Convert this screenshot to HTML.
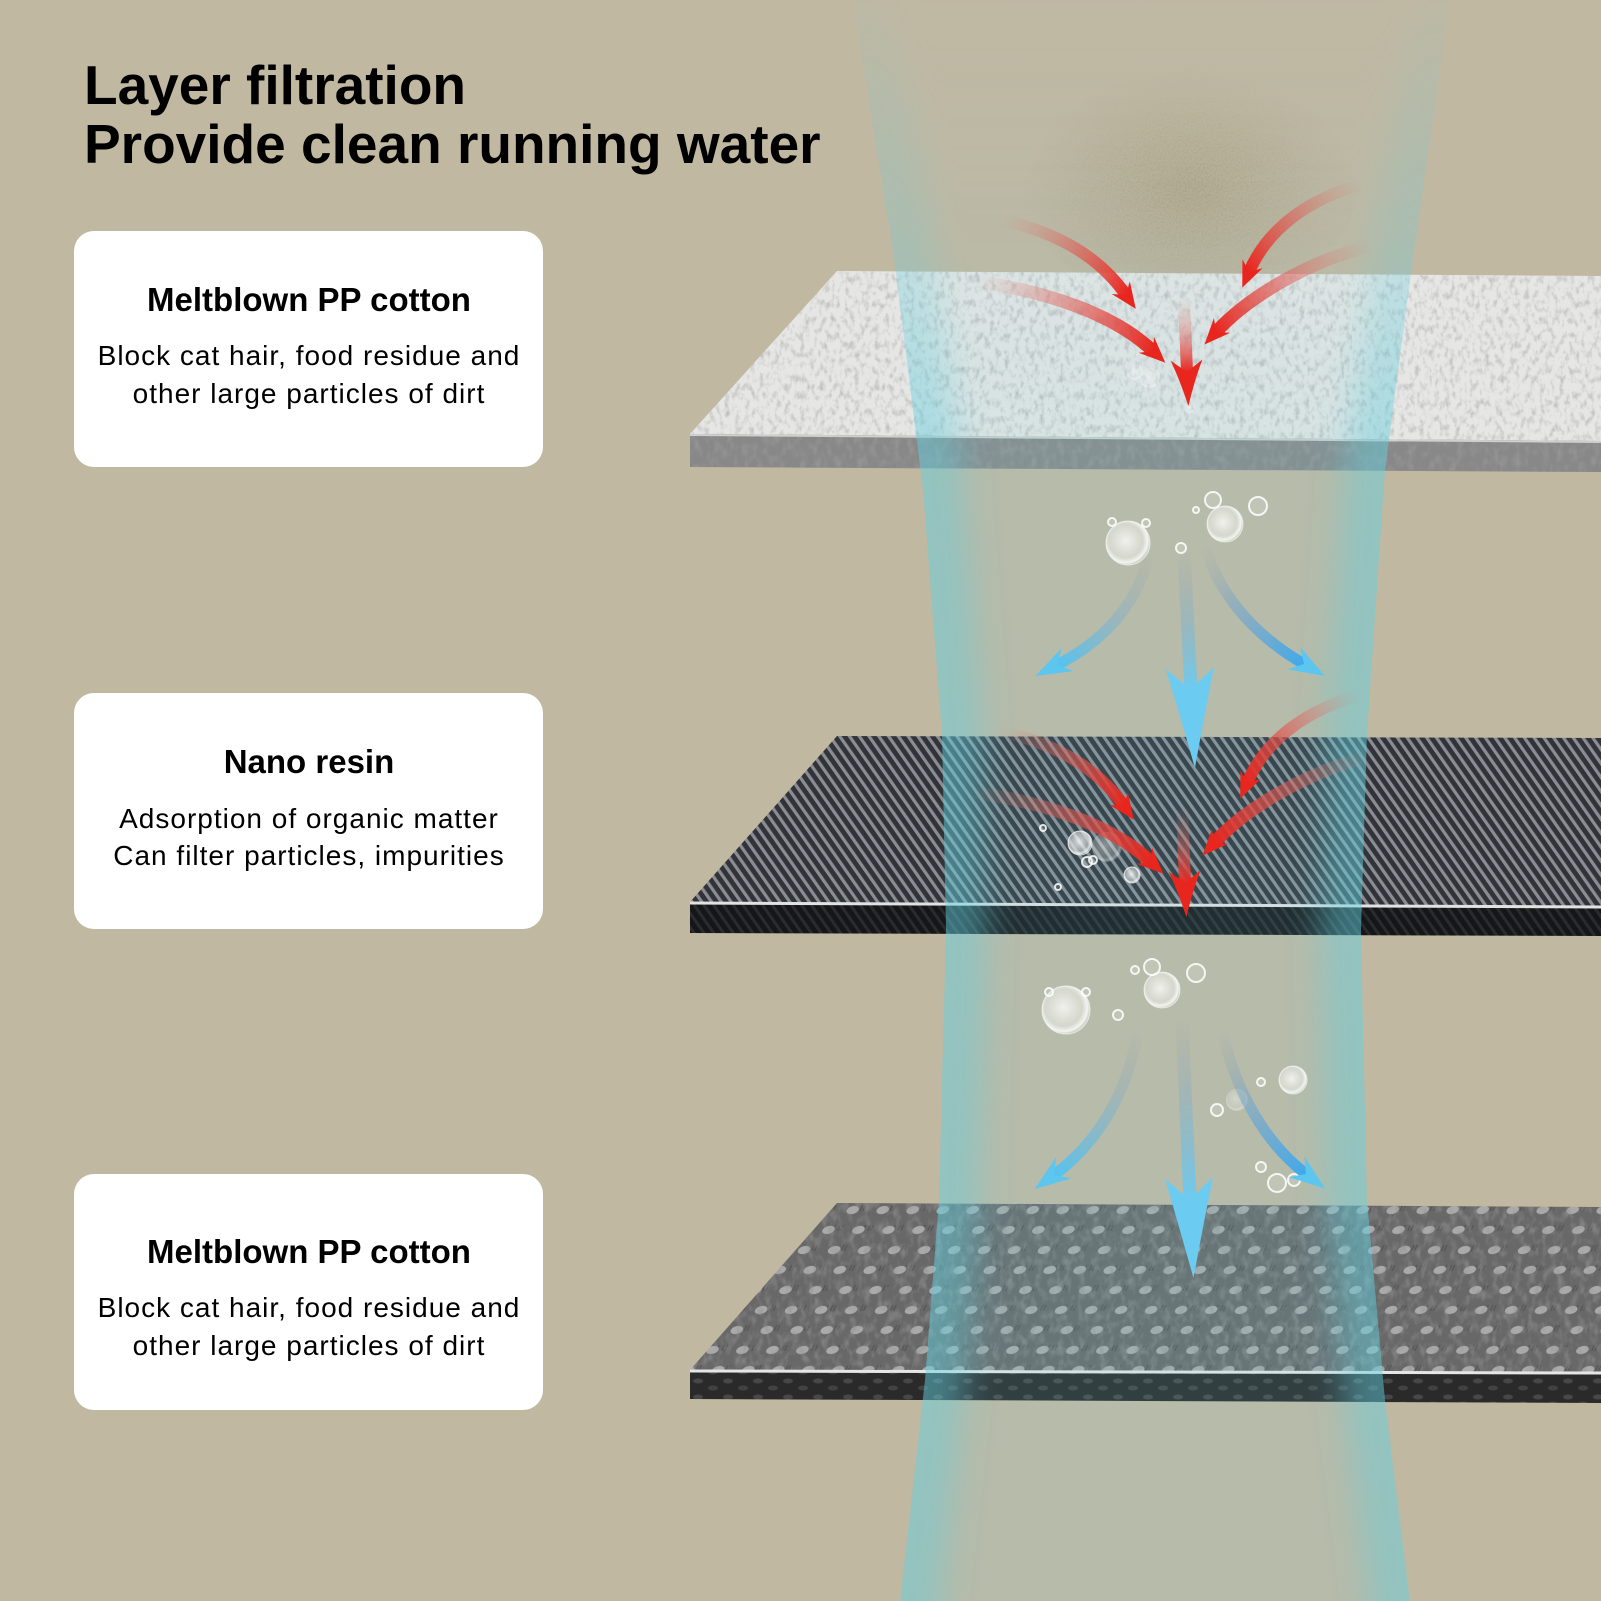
<!DOCTYPE html>
<html>
<head>
<meta charset="utf-8">
<style>
  html,body{margin:0;padding:0;background:#C1B8A2;}
  body{width:1601px;height:1601px;overflow:hidden;}
  svg{display:block;}
  .t{font-family:"Liberation Sans",Arial,sans-serif;fill:#000;}
</style>
</head>
<body>
<svg width="1601" height="1601" viewBox="0 0 1601 1601" xmlns="http://www.w3.org/2000/svg">
<defs>
  <filter id="speck" x="0" y="0" width="1" height="1">
    <feTurbulence type="fractalNoise" baseFrequency="0.2 0.12" numOctaves="3" seed="5" result="t"/>
    <feColorMatrix in="t" type="matrix" values="0 0 0 0 0.5  0 0 0 0 0.5  0 0 0 0 0.5  2.2 0 0 0 -1.02" result="g"/>
    <feComposite in="g" in2="SourceGraphic" operator="in"/>
  </filter>
  <filter id="speck2" x="0" y="0" width="1" height="1">
    <feTurbulence type="fractalNoise" baseFrequency="0.14 0.09" numOctaves="2" seed="9" result="t"/>
    <feColorMatrix in="t" type="matrix" values="0 0 0 0 0.3  0 0 0 0 0.3  0 0 0 0 0.3  2.5 0 0 0 -1.1" result="g"/>
    <feComposite in="g" in2="SourceGraphic" operator="in"/>
  </filter>
  <filter id="dirtNoise" x="0" y="0" width="1" height="1">
    <feTurbulence type="fractalNoise" baseFrequency="0.55" numOctaves="1" seed="2" result="n"/>
    <feColorMatrix in="n" type="matrix" values="0 0 0 0 0  0 0 0 0 0  0 0 0 0 0  2.2 0 0 0 -0.9" result="na"/>
    <feComposite in="SourceGraphic" in2="na" operator="in"/>
  </filter>
  <filter id="blur18" x="-50%" y="-5%" width="200%" height="110%">
    <feGaussianBlur stdDeviation="16"/>
  </filter>

  <pattern id="stripes" patternUnits="userSpaceOnUse" width="8" height="8" patternTransform="rotate(-35)">
    <rect width="8" height="8" fill="#313338"/>
    <rect width="3.2" height="8" fill="#8a8d93"/>
  </pattern>
  <pattern id="stripesDark" patternUnits="userSpaceOnUse" width="8" height="8" patternTransform="rotate(-35)">
    <rect width="8" height="8" fill="#151618"/>
    <rect width="3" height="8" fill="#2a2b2e"/>
  </pattern>
  <pattern id="dots" patternUnits="userSpaceOnUse" width="30" height="40" patternTransform="skewX(-25)">
    <rect width="30" height="40" fill="#686868"/>
    <g fill="#565656">
      <rect x="14" y="5" width="1.4" height="6"/><rect x="17" y="5" width="1.4" height="6"/>
      <rect x="1" y="25" width="1.4" height="6"/><rect x="4" y="25" width="1.4" height="6"/>
      <rect x="26" y="25" width="1.4" height="6"/>
    </g>
    <ellipse cx="7" cy="10" rx="6" ry="4.2" fill="#aaaaaa"/>
    <ellipse cx="22" cy="30" rx="6" ry="4.2" fill="#aaaaaa"/>
  </pattern>
  <pattern id="dotsDark" patternUnits="userSpaceOnUse" width="30" height="16">
    <rect width="30" height="16" fill="#2a2a2a"/>
    <ellipse cx="8" cy="5" rx="5" ry="2.5" fill="#474747"/>
    <ellipse cx="23" cy="12" rx="5" ry="2.5" fill="#424242"/>
  </pattern>

  <radialGradient id="dirtG" cx="0.5" cy="0.55" r="0.5">
    <stop offset="0" stop-color="#9a8762" stop-opacity="0.28"/>
    <stop offset="0.6" stop-color="#a89878" stop-opacity="0.15"/>
    <stop offset="1" stop-color="#b0a285" stop-opacity="0"/>
  </radialGradient>
  <radialGradient id="dirtS" cx="0.5" cy="0.55" r="0.5">
    <stop offset="0" stop-color="#85704c" stop-opacity="0.8"/>
    <stop offset="1" stop-color="#85704c" stop-opacity="0"/>
  </radialGradient>

  <clipPath id="beamClip">
    <polygon points="852,0 893,250 923,490 942,735 946,930 939,1200 925,1380 900,1601 1410,1601 1385,1400 1367,1200 1361,930 1367,735 1385,470 1412,265 1450,0"/>
  </clipPath>
  <linearGradient id="fadeG" gradientUnits="userSpaceOnUse" x1="0" y1="0" x2="0" y2="460">
    <stop offset="0" stop-color="#fff" stop-opacity="0.08"/>
    <stop offset="0.5" stop-color="#fff" stop-opacity="0.5"/>
    <stop offset="1" stop-color="#fff" stop-opacity="1"/>
  </linearGradient>
  <mask id="beamFade" maskUnits="userSpaceOnUse" x="0" y="0" width="1601" height="1601">
    <rect width="1601" height="1601" fill="url(#fadeG)"/>
  </mask>

  <radialGradient id="bub" cx="0.45" cy="0.45" r="0.55">
    <stop offset="0" stop-color="#fff" stop-opacity="0.8"/>
    <stop offset="0.7" stop-color="#eeeeea" stop-opacity="0.55"/>
    <stop offset="0.9" stop-color="#fff" stop-opacity="0.85"/>
    <stop offset="1" stop-color="#fff" stop-opacity="0.3"/>
  </radialGradient>

  <marker id="hr" markerUnits="userSpaceOnUse" markerWidth="26" markerHeight="22" viewBox="0 0 26 22" refX="9" refY="11" orient="auto">
    <path d="M26,11 L0,0 L9,11 L0,22 Z" fill="#e8261e"/>
  </marker>
  <marker id="hrc" markerUnits="userSpaceOnUse" markerWidth="46" markerHeight="32" viewBox="0 0 46 32" refX="12" refY="16" orient="auto">
    <path d="M46,16 Q18,8 0,0 L12,16 L0,32 Q18,24 46,16 Z" fill="#e8261e"/>
  </marker>
  <marker id="hbs" markerUnits="userSpaceOnUse" markerWidth="36" markerHeight="26" viewBox="0 0 36 26" refX="12" refY="13" orient="auto">
    <path d="M36,13 L0,0 L12,13 L0,26 Z" fill="#5cc6ef"/>
  </marker>
  <marker id="hbc" markerUnits="userSpaceOnUse" markerWidth="100" markerHeight="48" viewBox="0 0 100 48" refX="22" refY="24" orient="auto">
    <path d="M100,24 Q40,10 0,0 L22,24 L0,48 Q40,38 100,24 Z" fill="#6ccbf1"/>
  </marker>

  <linearGradient id="gA1" gradientUnits="userSpaceOnUse" x1="1001" y1="220" x2="1126" y2="295"><stop offset="0" stop-color="#d98a7a" stop-opacity="0"/><stop offset="0.45" stop-color="#e0605a" stop-opacity="0.5"/><stop offset="1" stop-color="#e8261e"/></linearGradient>
  <linearGradient id="gA2" gradientUnits="userSpaceOnUse" x1="975" y1="281" x2="1153" y2="351"><stop offset="0" stop-color="#d98a7a" stop-opacity="0"/><stop offset="0.45" stop-color="#e0605a" stop-opacity="0.5"/><stop offset="1" stop-color="#e8261e"/></linearGradient>
  <linearGradient id="gA3" gradientUnits="userSpaceOnUse" x1="1184" y1="298" x2="1187" y2="372"><stop offset="0" stop-color="#d98a7a" stop-opacity="0"/><stop offset="0.5" stop-color="#e0605a" stop-opacity="0.45"/><stop offset="1" stop-color="#e8261e"/></linearGradient>
  <linearGradient id="gA4" gradientUnits="userSpaceOnUse" x1="1363" y1="184" x2="1249" y2="272"><stop offset="0" stop-color="#d98a7a" stop-opacity="0"/><stop offset="0.45" stop-color="#e0605a" stop-opacity="0.5"/><stop offset="1" stop-color="#e8261e"/></linearGradient>
  <linearGradient id="gA5" gradientUnits="userSpaceOnUse" x1="1373" y1="245" x2="1216" y2="332"><stop offset="0" stop-color="#d98a7a" stop-opacity="0"/><stop offset="0.45" stop-color="#e0605a" stop-opacity="0.5"/><stop offset="1" stop-color="#e8261e"/></linearGradient>

  <linearGradient id="gB1" gradientUnits="userSpaceOnUse" x1="1149" y1="551" x2="1057" y2="665"><stop offset="0" stop-color="#9aa4a8" stop-opacity="0"/><stop offset="0.4" stop-color="#8fb0c0" stop-opacity="0.5"/><stop offset="1" stop-color="#55c3f0"/></linearGradient>
  <linearGradient id="gB2" gradientUnits="userSpaceOnUse" x1="1184" y1="551" x2="1191" y2="690"><stop offset="0" stop-color="#9aa4a8" stop-opacity="0"/><stop offset="0.4" stop-color="#8fb0c0" stop-opacity="0.5"/><stop offset="1" stop-color="#6ccbf1"/></linearGradient>
  <linearGradient id="gB3" gradientUnits="userSpaceOnUse" x1="1205" y1="546" x2="1304" y2="664"><stop offset="0" stop-color="#9aa4a8" stop-opacity="0"/><stop offset="0.4" stop-color="#7aa5c8" stop-opacity="0.55"/><stop offset="1" stop-color="#3fa9ec"/></linearGradient>
  <linearGradient id="gC1" gradientUnits="userSpaceOnUse" x1="1138" y1="1030" x2="1054" y2="1175"><stop offset="0" stop-color="#9aa4a8" stop-opacity="0"/><stop offset="0.4" stop-color="#8fb0c0" stop-opacity="0.5"/><stop offset="1" stop-color="#55c3f0"/></linearGradient>
  <linearGradient id="gC2" gradientUnits="userSpaceOnUse" x1="1182" y1="1020" x2="1190" y2="1200"><stop offset="0" stop-color="#9aa4a8" stop-opacity="0"/><stop offset="0.4" stop-color="#8fb0c0" stop-opacity="0.5"/><stop offset="1" stop-color="#6ccbf1"/></linearGradient>
  <linearGradient id="gC3" gradientUnits="userSpaceOnUse" x1="1222" y1="1030" x2="1306" y2="1174"><stop offset="0" stop-color="#9aa4a8" stop-opacity="0"/><stop offset="0.4" stop-color="#7aa5c8" stop-opacity="0.55"/><stop offset="1" stop-color="#3fa9ec"/></linearGradient>
</defs>

<rect width="1601" height="1601" fill="#C1B8A2"/>

<text class="t" x="84" y="104" font-size="55" font-weight="bold">Layer filtration</text>
<text class="t" x="84" y="163" font-size="55" font-weight="bold">Provide clean running water</text>

<rect x="74" y="231" width="469" height="236" rx="20" fill="#fff"/>
<rect x="74" y="693" width="469" height="236" rx="20" fill="#fff"/>
<rect x="74" y="1174" width="469" height="236" rx="20" fill="#fff"/>

<g class="t" text-anchor="middle">
  <text x="309" y="311" font-size="33" font-weight="bold" class="t">Meltblown PP cotton</text>
  <text x="309" y="365" font-size="28" style="letter-spacing:1px" class="t">Block cat hair, food residue and</text>
  <text x="309" y="403" font-size="28" style="letter-spacing:1px" class="t">other large particles of dirt</text>

  <text x="309" y="773" font-size="33" font-weight="bold" class="t">Nano resin</text>
  <text x="309" y="828" font-size="28" style="letter-spacing:1px" class="t">Adsorption of organic matter</text>
  <text x="309" y="865" font-size="28" style="letter-spacing:1px" class="t">Can filter particles, impurities</text>

  <text x="309" y="1263" font-size="33" font-weight="bold" class="t">Meltblown PP cotton</text>
  <text x="309" y="1317" font-size="28" style="letter-spacing:1px" class="t">Block cat hair, food residue and</text>
  <text x="309" y="1355" font-size="28" style="letter-spacing:1px" class="t">other large particles of dirt</text>
</g>

<!-- dirt cloud -->
<ellipse cx="1190" cy="180" rx="170" ry="125" fill="url(#dirtG)"/>
<ellipse cx="1190" cy="180" rx="170" ry="125" fill="url(#dirtS)" filter="url(#dirtNoise)" opacity="0.35"/>

<!-- plate 1 -->
<polygon points="837,271 1601,276 1601,441 690,434" fill="#e6e6e4"/>
<polygon points="837,271 1601,276 1601,441 690,434" fill="#000" filter="url(#speck)"/>
<polygon points="690,434 1601,441 1601,472 690,467" fill="#888888"/>
<polygon points="690,434 1601,441 1601,472 690,467" fill="#000" filter="url(#speck2)"/>
<line x1="690" y1="435" x2="1601" y2="442" stroke="#cfcfcf" stroke-width="2"/>

<!-- plate 2 -->
<polygon points="837,736 1601,738 1601,906 690,902" fill="url(#stripes)"/>
<polygon points="690,902 1601,906 1601,936 690,933" fill="url(#stripesDark)"/>
<line x1="690" y1="903" x2="1601" y2="907" stroke="#e2e2e2" stroke-width="3"/>

<!-- plate 3 -->
<polygon points="837,1203 1601,1207 1601,1372 690,1370" fill="url(#dots)"/>
<polygon points="837,1203 1601,1207 1601,1372 690,1370" fill="#000" filter="url(#speck2)" opacity="0.6"/>
<polygon points="690,1370 1601,1372 1601,1403 690,1399" fill="url(#dotsDark)"/>
<line x1="690" y1="1371" x2="1601" y2="1373" stroke="#e6e6e6" stroke-width="3"/>

<!-- beam -->
<g clip-path="url(#beamClip)" mask="url(#beamFade)">
  <polygon points="852,0 893,250 923,490 942,735 946,930 939,1200 925,1380 900,1601 1410,1601 1385,1400 1367,1200 1361,930 1367,735 1385,470 1412,265 1450,0" fill="#6ed4de" fill-opacity="0.13"/>
  <g fill="none" stroke="#62d0de" stroke-opacity="0.42" stroke-width="80" filter="url(#blur18)">
    <polyline points="845,-60 852,0 893,250 923,490 942,735 946,930 939,1200 925,1380 900,1601 895,1660"/>
    <polyline points="1458,-60 1450,0 1412,265 1385,470 1367,735 1361,930 1367,1200 1385,1400 1410,1601 1415,1660"/>
  </g>
</g>

<!-- bubbles plate 1 (faint) -->
<g opacity="0.5">
  <circle cx="1150" cy="378" r="10" fill="url(#bub)"/>
  <circle cx="1135" cy="372" r="8" fill="url(#bub)"/>
  <circle cx="1190" cy="408" r="5" fill="url(#bub)"/>
</g>

<g>
  <circle cx="1128" cy="543" r="22" fill="url(#bub)" stroke="#fff" stroke-opacity="0.6"/>
  <circle cx="1225" cy="524" r="18" fill="url(#bub)" stroke="#fff" stroke-opacity="0.6"/>
  <circle cx="1066" cy="1010" r="24" fill="url(#bub)" stroke="#fff" stroke-opacity="0.6"/>
  <circle cx="1162" cy="990" r="18" fill="url(#bub)" stroke="#fff" stroke-opacity="0.6"/>
  <circle cx="1293" cy="1080" r="14" fill="url(#bub)" stroke="#fff" stroke-opacity="0.6"/>
  <circle cx="1237" cy="1100" r="11" fill="url(#bub)" opacity="0.5"/>
  <circle cx="1080" cy="843" r="12" fill="url(#bub)" stroke="#fff" stroke-opacity="0.7"/>
  <circle cx="1107" cy="847" r="15" fill="url(#bub)" opacity="0.5"/>
  <circle cx="1132" cy="875" r="8" fill="url(#bub)" stroke="#fff" stroke-opacity="0.7"/>
  <g fill="#fff" fill-opacity="0.15" stroke="#fff" stroke-opacity="0.85" stroke-width="2">
    <circle cx="1213" cy="500" r="8"/><circle cx="1258" cy="506" r="9"/><circle cx="1181" cy="548" r="5"/>
    <circle cx="1112" cy="522" r="4"/><circle cx="1146" cy="523" r="4"/><circle cx="1196" cy="510" r="3"/>
    <circle cx="1152" cy="967" r="8"/><circle cx="1196" cy="973" r="9"/><circle cx="1118" cy="1015" r="5"/>
    <circle cx="1217" cy="1110" r="6"/><circle cx="1261" cy="1082" r="4"/>
    <circle cx="1277" cy="1183" r="9"/><circle cx="1294" cy="1180" r="6"/><circle cx="1261" cy="1167" r="5"/>
    <circle cx="1135" cy="970" r="4"/><circle cx="1049" cy="992" r="4"/><circle cx="1086" cy="992" r="4"/>
    <circle cx="1087" cy="862" r="5"/><circle cx="1043" cy="828" r="3"/><circle cx="1058" cy="887" r="3"/><circle cx="1093" cy="860" r="4"/>
  </g>
</g>

<!-- red arrows plate 1 -->
<g fill="none" stroke-linecap="round">
  <path d="M1001,220 C1060,233 1100,258 1126,295" stroke="url(#gA1)" stroke-width="12" marker-end="url(#hr)"/>
  <path d="M975,281 C1050,292 1115,315 1153,351" stroke="url(#gA2)" stroke-width="13" marker-end="url(#hr)"/>
  <path d="M1184,298 L1187,372" stroke="url(#gA3)" stroke-width="12" marker-end="url(#hrc)"/>
  <path d="M1363,184 C1310,198 1268,228 1249,272" stroke="url(#gA4)" stroke-width="12" marker-end="url(#hr)"/>
  <path d="M1373,245 C1312,260 1250,295 1216,332" stroke="url(#gA5)" stroke-width="13" marker-end="url(#hr)"/>
</g>
<!-- red arrows plate 2 -->
<g transform="translate(-2,511)" fill="none" stroke-linecap="round">
  <path d="M1001,220 C1060,233 1100,258 1126,295" stroke="url(#gA1)" stroke-width="12" marker-end="url(#hr)"/>
  <path d="M975,281 C1050,292 1115,315 1153,351" stroke="url(#gA2)" stroke-width="13" marker-end="url(#hr)"/>
  <path d="M1184,298 L1187,372" stroke="url(#gA3)" stroke-width="12" marker-end="url(#hrc)"/>
  <path d="M1363,184 C1310,198 1268,228 1249,272" stroke="url(#gA4)" stroke-width="12" marker-end="url(#hr)"/>
  <path d="M1373,245 C1312,260 1250,295 1216,332" stroke="url(#gA5)" stroke-width="13" marker-end="url(#hr)"/>
</g>

<!-- blue arrows -->
<g fill="none" stroke-linecap="round">
  <path d="M1149,551 C1140,605 1100,643 1057,665" stroke="url(#gB1)" stroke-width="11" marker-end="url(#hbs)"/>
  <path d="M1184,551 L1191,690" stroke="url(#gB2)" stroke-width="13" marker-end="url(#hbc)"/>
  <path d="M1205,546 C1220,600 1262,640 1304,664" stroke="url(#gB3)" stroke-width="11" marker-end="url(#hbs)"/>

  <path d="M1138,1030 C1128,1095 1095,1145 1054,1175" stroke="url(#gC1)" stroke-width="11" marker-end="url(#hbs)"/>
  <path d="M1182,1020 L1190,1200" stroke="url(#gC2)" stroke-width="13" marker-end="url(#hbc)"/>
  <path d="M1222,1030 C1236,1095 1268,1145 1306,1174" stroke="url(#gC3)" stroke-width="11" marker-end="url(#hbs)"/>
</g>
</svg>
</body>
</html>
